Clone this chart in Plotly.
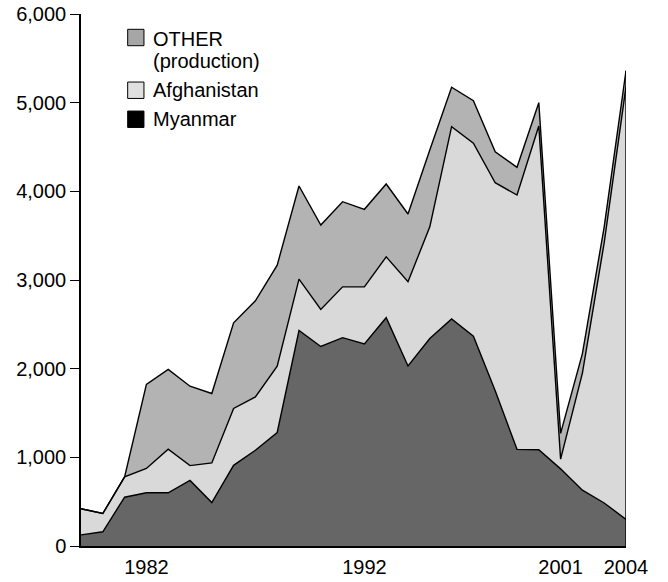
import plotly.graph_objects as go

years = list(range(1979, 2005))

myanmar = [125, 160, 550, 600, 600, 740, 490, 910, 1080, 1280,
           2430, 2250, 2350, 2280, 2575, 2030, 2340, 2560, 2365, 1750,
           1090, 1085, 870, 630, 485, 300]

afghanistan = [295, 206, 229, 274, 491, 167, 447, 641, 602, 748,
               580, 418, 573, 643, 687, 950, 1260, 2169, 2177, 2347,
               2868, 3652, 110, 1320, 2935, 4880]

other = [0, 0, 0, 948, 900, 895, 783, 966, 1083, 1140,
         1050, 952, 960, 874, 821, 764, 866, 445, 481, 350,
         313, 263, 290, 220, 180, 180]

x_ticks = [1982, 1992, 2001, 2004]
y_ticks = [0, 1000, 2000, 3000, 4000, 5000, 6000]

legend_items = [
    ("OTHER", "(production)", "#a6a6a6"),
    ("Afghanistan", None, "#e0e0e0"),
    ("Myanmar", None, "#000000"),
]

FONT = "Liberation Sans, Arial, Helvetica, sans-serif"
FS = 20

fig = go.Figure()
fig.add_trace(go.Scatter(x=years, y=myanmar, stackgroup="one", mode="lines",
                         line=dict(color="black", width=1.4),
                         fillcolor="#666666", name="Myanmar"))
fig.add_trace(go.Scatter(x=years, y=afghanistan, stackgroup="one", mode="lines",
                         line=dict(color="black", width=1.4),
                         fillcolor="#d9d9d9", name="Afghanistan"))
fig.add_trace(go.Scatter(x=years, y=other, stackgroup="one", mode="lines",
                         line=dict(color="black", width=1.4),
                         fillcolor="#b3b3b3", name="OTHER"))

total_last = myanmar[-1] + afghanistan[-1] + other[-1]
fig.add_trace(go.Scatter(x=[years[-1], years[-1]], y=[0, total_last], mode="lines",
                         line=dict(color="black", width=1.4), showlegend=False,
                         hoverinfo="skip"))

# custom legend (layout, paper coords)
L, R, T, B = 81, 668 - 626.3, 14, 582 - 545.7
pw = 668 - L - R
ph = 582 - T - B

def px(xp):
    return (xp - L) / pw

def py(yp):
    return (582 - B - yp) / ph

box_tops = [29.3, 82, 111]
text_centers = [39, 90, 119]
for (label, sub, color), top, tc in zip(legend_items, box_tops, text_centers):
    fig.add_shape(type="rect", xref="paper", yref="paper",
                  x0=px(127.7), x1=px(144), y0=py(top + 16.4), y1=py(top),
                  fillcolor=color, line=dict(color="black", width=1))
    fig.add_annotation(xref="paper", yref="paper", x=px(151), y=py(tc),
                       text=label, showarrow=False, xanchor="left", yanchor="middle",
                       font=dict(family=FONT, size=FS, color="black"))
    if sub:
        fig.add_annotation(xref="paper", yref="paper", x=px(151), y=py(tc + 21.5),
                           text=sub, showarrow=False, xanchor="left", yanchor="middle",
                           font=dict(family=FONT, size=FS, color="black"))

fig.update_layout(
    width=668, height=582,
    margin=dict(l=L, r=R, t=T, b=B, pad=0, autoexpand=False),
    paper_bgcolor="white", plot_bgcolor="white",
    showlegend=False,
    font=dict(family=FONT, size=FS, color="black"),
    xaxis=dict(range=[years[0], years[-1]], tickvals=x_ticks,
               ticktext=[str(v) for v in x_ticks],
               showgrid=False, zeroline=False, showline=True,
               linecolor="black", linewidth=1.5, ticks="",
               ticklabelstandoff=2, tickfont=dict(size=FS), automargin=False),
    yaxis=dict(range=[0, 6000], tickvals=y_ticks,
               ticktext=[f"{v:,}" for v in y_ticks],
               showgrid=False, zeroline=False, showline=True,
               linecolor="black", linewidth=1.5, ticks="outside",
               ticklen=9, tickwidth=1.3, tickcolor="black",
               tickfont=dict(size=FS), automargin=False),
)

fig.write_html("out.html",
               config={"displayModeBar": False},
               post_script="document.body.style.margin='0';document.body.style.padding='0';")
